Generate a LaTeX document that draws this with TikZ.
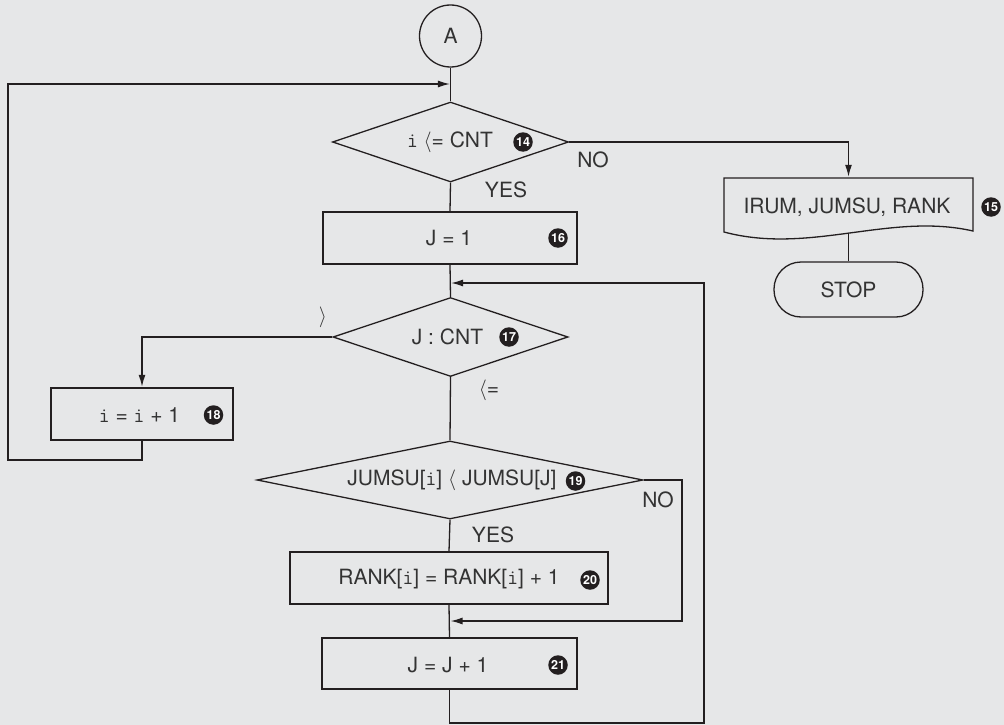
\documentclass[tikz,border=0pt]{standalone}
\usepackage{fontspec}
\setmainfont{TeX Gyre Heros}
\usetikzlibrary{shapes.geometric,arrows.meta,calc}
\definecolor{bg}{HTML}{E6E7E8}
\definecolor{ln}{HTML}{231F20}
\definecolor{tx}{HTML}{333333}
\newcommand{\mi}{{\ttfamily i}}
\begin{document}
\begin{tikzpicture}[x=1pt,y=-1pt,
  line width=1.3pt,
  every node/.style={text=tx, font=\fontsize{21}{24}\selectfont},
  conn/.style={draw=ln, line width=1.3pt},
  arr/.style={conn, -{Latex[length=12pt,width=7pt]}, shorten >=0.6pt},
  box/.style={draw=ln, rectangle, inner sep=0pt, line width=1.3pt},
  dia/.style={draw=ln, diamond, aspect=5, inner sep=0pt, line width=1.3pt},
  plain/.style={inner sep=0pt},
  num/.style={circle, fill=ln, text=white, inner sep=0pt, minimum size=19.5pt,
    font=\fontsize{12.5}{12.5}\bfseries\selectfont},
  lbl/.style={inner sep=0pt}
]
\useasboundingbox[fill=bg] (0,0) rectangle (1004,725);

% nodes
\node[draw=ln, circle, minimum size=62pt, inner sep=0pt, line width=1.3pt] (A) at (450.5,36) {A};
\node[dia, minimum width=236pt, minimum height=80pt] (d1) at (450.5,142) {};
\node[plain] (t1) at (450,142) {\mi\ $\langle$= CNT};
\node[num] (n14) at (523,142) {14};

\node[box, minimum width=254pt, minimum height=52pt] (b1) at (450,238) {};
\node[plain] (t16) at (449,238) {J = 1};
\node[num] (n16) at (558,238) {16};

\node[dia, minimum width=235pt, minimum height=79pt] (d2) at (450.5,337) {};
\node[plain] (t2) at (447.5,337) {J : CNT};
\node[num] (n17) at (509,337) {17};

\node[box, minimum width=182pt, minimum height=52pt] (bi) at (142,414) {};
\node[plain] (ti) at (139.5,415) {\mi\ = \mi\ + 1};
\node[num] (n18) at (213.5,415) {18};

\node[dia, minimum width=386pt, minimum height=78pt] (d3) at (450,480) {};
\node[plain] (t3) at (452,480) {JUMSU[\mi] $\langle$ JUMSU[J]};
\node[num] (n19) at (575.5,481) {19};

\node[box, minimum width=318pt, minimum height=52pt] (rk) at (449,578) {};
\node[plain] (trk) at (449,579) {RANK[\mi] = RANK[\mi] + 1};
\node[num] (n20) at (590,580) {20};

\node[box, minimum width=255pt, minimum height=51pt] (j1) at (449.5,663.5) {};
\node[plain] (tj1) at (448,665) {J = J + 1};
\node[num] (n21) at (558,665) {21};

% document symbol
\node[plain, minimum width=249pt, minimum height=55pt] (doc) at (848.5,205.5) {};
\draw[conn] (724,178) -- (973,178) -- (973,231)
  .. controls (890,212) and (810,255) .. (724,232) -- cycle;
\node[plain] (tdoc) at (847,207) {IRUM, JUMSU, RANK};
\node[num] (n15) at (991,207) {15};

\node[draw=ln, rectangle, rounded corners=27pt, minimum width=149pt, minimum height=55pt, inner sep=0pt, line width=1.3pt] (stop) at (848.5,289.5) {STOP};

% labels
\node[lbl] (no1) at (593,160) {NO};
\node[lbl] (yes1) at (506,190) {YES};
\node[lbl] (gt) at (323,317) {$\rangle$};
\node[lbl] (le) at (489,390) {$\langle$=};
\node[lbl] (no3) at (658,500) {NO};
\node[lbl] (yes3) at (493,535) {YES};

% join coordinates
\coordinate (m1) at (450.5,84);
\coordinate (m2) at (450.5,283);
\coordinate (m3) at (450,621);
\coordinate (lb) at (8,460);
\coordinate (rb) at (704,723);

% connectors
\draw[conn] (A.south) -- (d1.north);
\draw[conn] (d1.south) -- (b1.north);
\draw[arr] (d1.east) -| (doc.north);
\draw[conn] (doc.south) -- (stop.north);
\draw[conn] (b1.south) -- (d2.north);
\draw[arr] (d2.west) -| (bi.north);
\draw[arr] (bi.south) |- (lb) |- (m1);
\draw[conn] (d2.south) -- (d3.north);
\draw[conn] (d3.south) -- (rk.north);
\draw[conn] (rk.south) -- (j1.north);
\draw[arr] (d3.east) -- (682,480) |- (m3);
\draw[arr] (j1.south) |- (rb) |- (m2);
\end{tikzpicture}
\end{document}
